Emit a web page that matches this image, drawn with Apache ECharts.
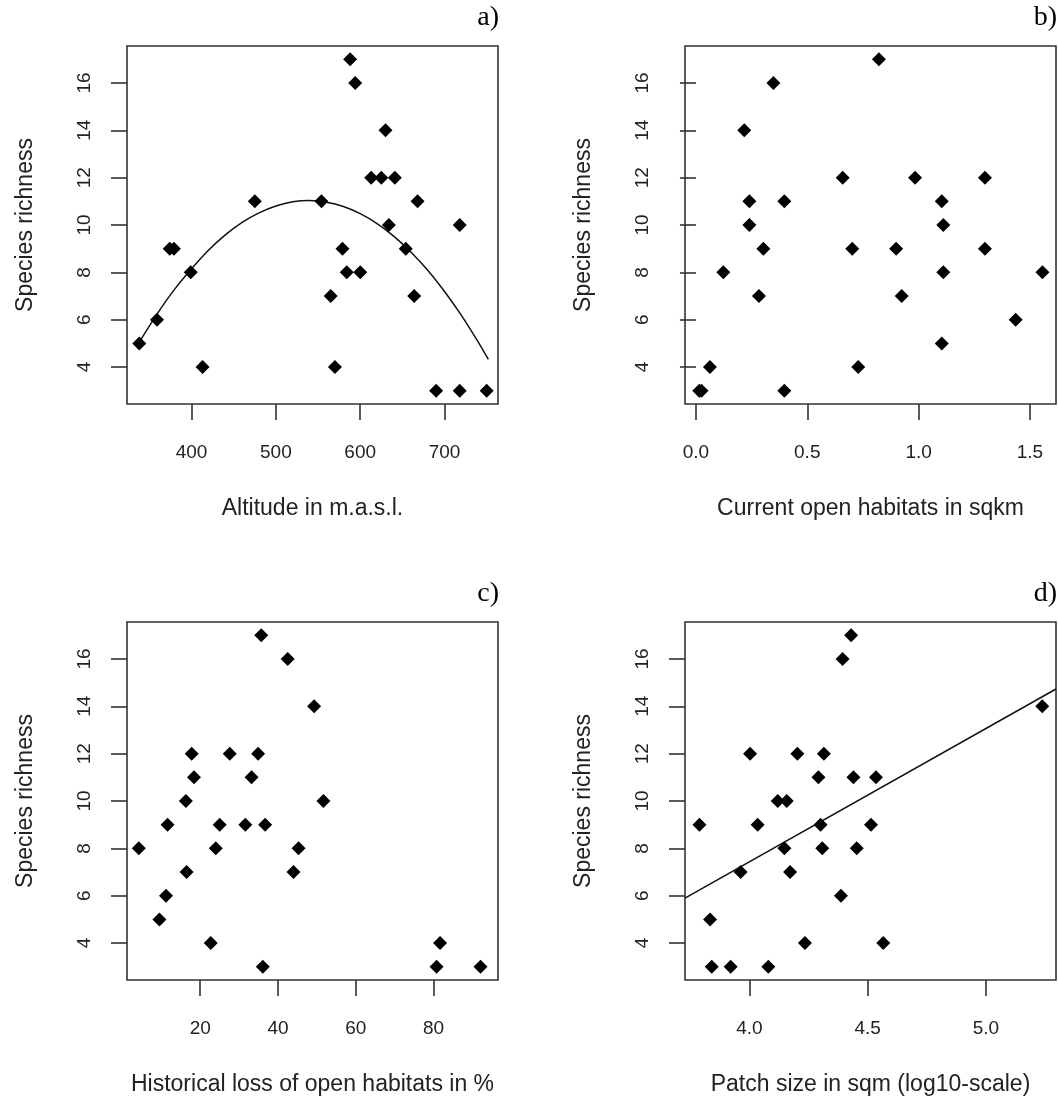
<!DOCTYPE html>
<html>
<head>
<meta charset="utf-8">
<script src="https://cdn.jsdelivr.net/npm/echarts@6/dist/echarts.min.js"></script>
<style>
  html, body { margin: 0; padding: 0; background: #fff; }
  #chart { width: 1058px; height: 1102px; }
</style>
</head>
<body>
<div id="chart"></div>
<script>
// y-axis ticks shared by all four panels
const richnessTicks = [4, 6, 8, 10, 12, 14, 16]

// a) altitude
const altitude = [338, 359, 374, 379, 399, 413, 475, 554, 588, 594, 565, 570, 579, 584, 600, 613, 625, 641, 630, 634, 654, 668, 664, 718, 690, 718, 750]
const richnessA = [5, 6, 9, 9, 8, 4, 11, 11, 17, 16, 7, 4, 9, 8, 8, 12, 12, 12, 14, 10, 9, 11, 7, 10, 3, 3, 3]
const altitudeTicks = [400, 500, 600, 700]
// fitted quadratic
const altCurveX = [340, 360, 380, 400, 420, 440, 460, 480, 500, 520, 540, 560, 580, 600, 620, 640, 660, 680, 700, 720, 740, 752]
const altCurveY = [5.17, 6.29, 7.29, 8.15, 8.93, 9.58, 10.11, 10.51, 10.8, 10.98, 11.03, 10.96, 10.78, 10.48, 10.06, 9.52, 8.86, 8.09, 7.19, 6.18, 5.05, 4.32]

// b) current open habitats
const openArea = [0.015, 0.025, 0.063, 0.123, 0.217, 0.24, 0.24, 0.303, 0.283, 0.348, 0.397, 0.397, 0.659, 0.702, 0.729, 0.822, 0.899, 0.924, 0.984, 1.104, 1.111, 1.111, 1.104, 1.298, 1.298, 1.436, 1.556]
const richnessB = [3, 3, 4, 8, 14, 11, 10, 9, 7, 16, 11, 3, 12, 9, 4, 17, 9, 7, 12, 11, 10, 8, 5, 12, 9, 6, 8]
const openTicks = [0.0, 0.5, 1.0, 1.5]

// c) historical loss
const histLoss = [4.2, 9.5, 11.2, 11.6, 16.3, 16.5, 17.8, 18.4, 22.7, 24.0, 25.0, 27.6, 31.6, 33.2, 34.9, 35.7, 36.7, 36.1, 42.5, 44.0, 45.3, 49.3, 51.7, 81.7, 80.8, 92.1]
const richnessC = [8, 5, 6, 9, 10, 7, 12, 11, 4, 8, 9, 12, 9, 11, 12, 17, 9, 3, 16, 7, 8, 14, 10, 4, 3, 3]
const lossTicks = [20, 40, 60, 80]

// d) patch size (log10)
const patchSize = [3.789, 3.834, 3.841, 3.921, 3.963, 4.003, 4.035, 4.080, 4.120, 4.158, 4.148, 4.172, 4.203, 4.235, 4.292, 4.301, 4.308, 4.315, 4.387, 4.394, 4.430, 4.440, 4.454, 4.514, 4.535, 4.566, 5.238]
const richnessD = [9, 5, 3, 3, 7, 12, 9, 3, 10, 10, 8, 7, 12, 4, 11, 9, 8, 12, 6, 16, 17, 11, 8, 9, 11, 4, 14]
const patchTicks = [4.0, 4.5, 5.0]
// regression line, end points read at the plot edges
const patchLineX = [3.728, 5.296]
const patchLineY = [5.9, 14.73]

const zip = (xs, ys) => xs.map((x, i) => [x, ys[i]])

const panels = [
  { left: 127, top: 46, label: 'a)', name: 'Altitude in m.a.s.l.', min: 323.4, max: 763.4, ticks: altitudeTicks, fmt: v => String(v) },
  { left: 685, top: 46, label: 'b)', name: 'Current open habitats in sqkm', min: -0.049, max: 1.617, ticks: openTicks, fmt: v => v.toFixed(1) },
  { left: 127, top: 622, label: 'c)', name: 'Historical loss of open habitats in %', min: 1.16, max: 96.6, ticks: lossTicks, fmt: v => String(v) },
  { left: 685, top: 622, label: 'd)', name: 'Patch size in sqm (log10-scale)', min: 3.728, max: 5.296, ticks: patchTicks, fmt: v => v.toFixed(1) },
]
const boxW = 371
const boxH = 358
const ink = '#333'
const textColor = '#222'

const chart = echarts.init(document.getElementById('chart'))

const option = {
  backgroundColor: '#fff',
  animation: false,
  grid: panels.map(p => ({
    left: p.left,
    top: p.top,
    width: boxW,
    height: boxH,
    show: true,
    borderColor: ink,
    borderWidth: 1.6,
    backgroundColor: 'transparent',
  })),
  xAxis: panels.map((p, i) => ({
    type: 'value',
    gridIndex: i,
    min: p.min,
    max: p.max,
    name: p.name,
    nameLocation: 'middle',
    nameGap: 93,
    nameTextStyle: { fontFamily: 'Liberation Sans', fontSize: 23, color: textColor },
    axisLine: { show: false },
    splitLine: { show: false },
    axisTick: {
      show: true,
      length: 16,
      customValues: p.ticks,
      lineStyle: { color: ink, width: 1.6 },
    },
    axisLabel: {
      customValues: p.ticks,
      formatter: p.fmt,
      margin: 39,
      fontFamily: 'Liberation Sans',
      fontSize: 19,
      color: textColor,
    },
  })),
  yAxis: panels.map((p, i) => ({
    type: 'value',
    gridIndex: i,
    min: 2.44,
    max: 17.56,
    name: 'Species richness',
    nameLocation: 'middle',
    nameGap: 90,
    nameTextStyle: { fontFamily: 'Liberation Sans', fontSize: 23, color: textColor },
    axisLine: { show: false },
    splitLine: { show: false },
    axisTick: {
      show: true,
      length: 16,
      customValues: richnessTicks,
      lineStyle: { color: ink, width: 1.6 },
    },
    axisLabel: {
      customValues: richnessTicks,
      rotate: 90,
      margin: 33,
      fontFamily: 'Liberation Sans',
      fontSize: 19,
      color: textColor,
    },
  })),
  graphic: panels.map(p => ({
    type: 'text',
    right: 1058 - (p.left + boxW) - 1,
    top: p.top - 42,
    style: {
      text: p.label,
      font: '28px "Liberation Serif"',
      fill: '#000',
    },
  })),
  series: [
    {
      type: 'line',
      xAxisIndex: 0,
      yAxisIndex: 0,
      data: zip(altCurveX, altCurveY),
      smooth: 0.3,
      showSymbol: false,
      lineStyle: { color: '#111', width: 1.5 },
      z: 1,
    },
    {
      type: 'line',
      xAxisIndex: 3,
      yAxisIndex: 3,
      data: zip(patchLineX, patchLineY),
      showSymbol: false,
      lineStyle: { color: '#111', width: 1.5 },
      z: 1,
    },
    ...[
      zip(altitude, richnessA),
      zip(openArea, richnessB),
      zip(histLoss, richnessC),
      zip(patchSize, richnessD),
    ].map((d, i) => ({
      type: 'scatter',
      xAxisIndex: i,
      yAxisIndex: i,
      data: d,
      symbol: 'diamond',
      symbolSize: 14,
      itemStyle: { color: '#000', opacity: 1 },
      z: 2,
    })),
  ],
}

chart.setOption(option)
</script>
</body>
</html>
